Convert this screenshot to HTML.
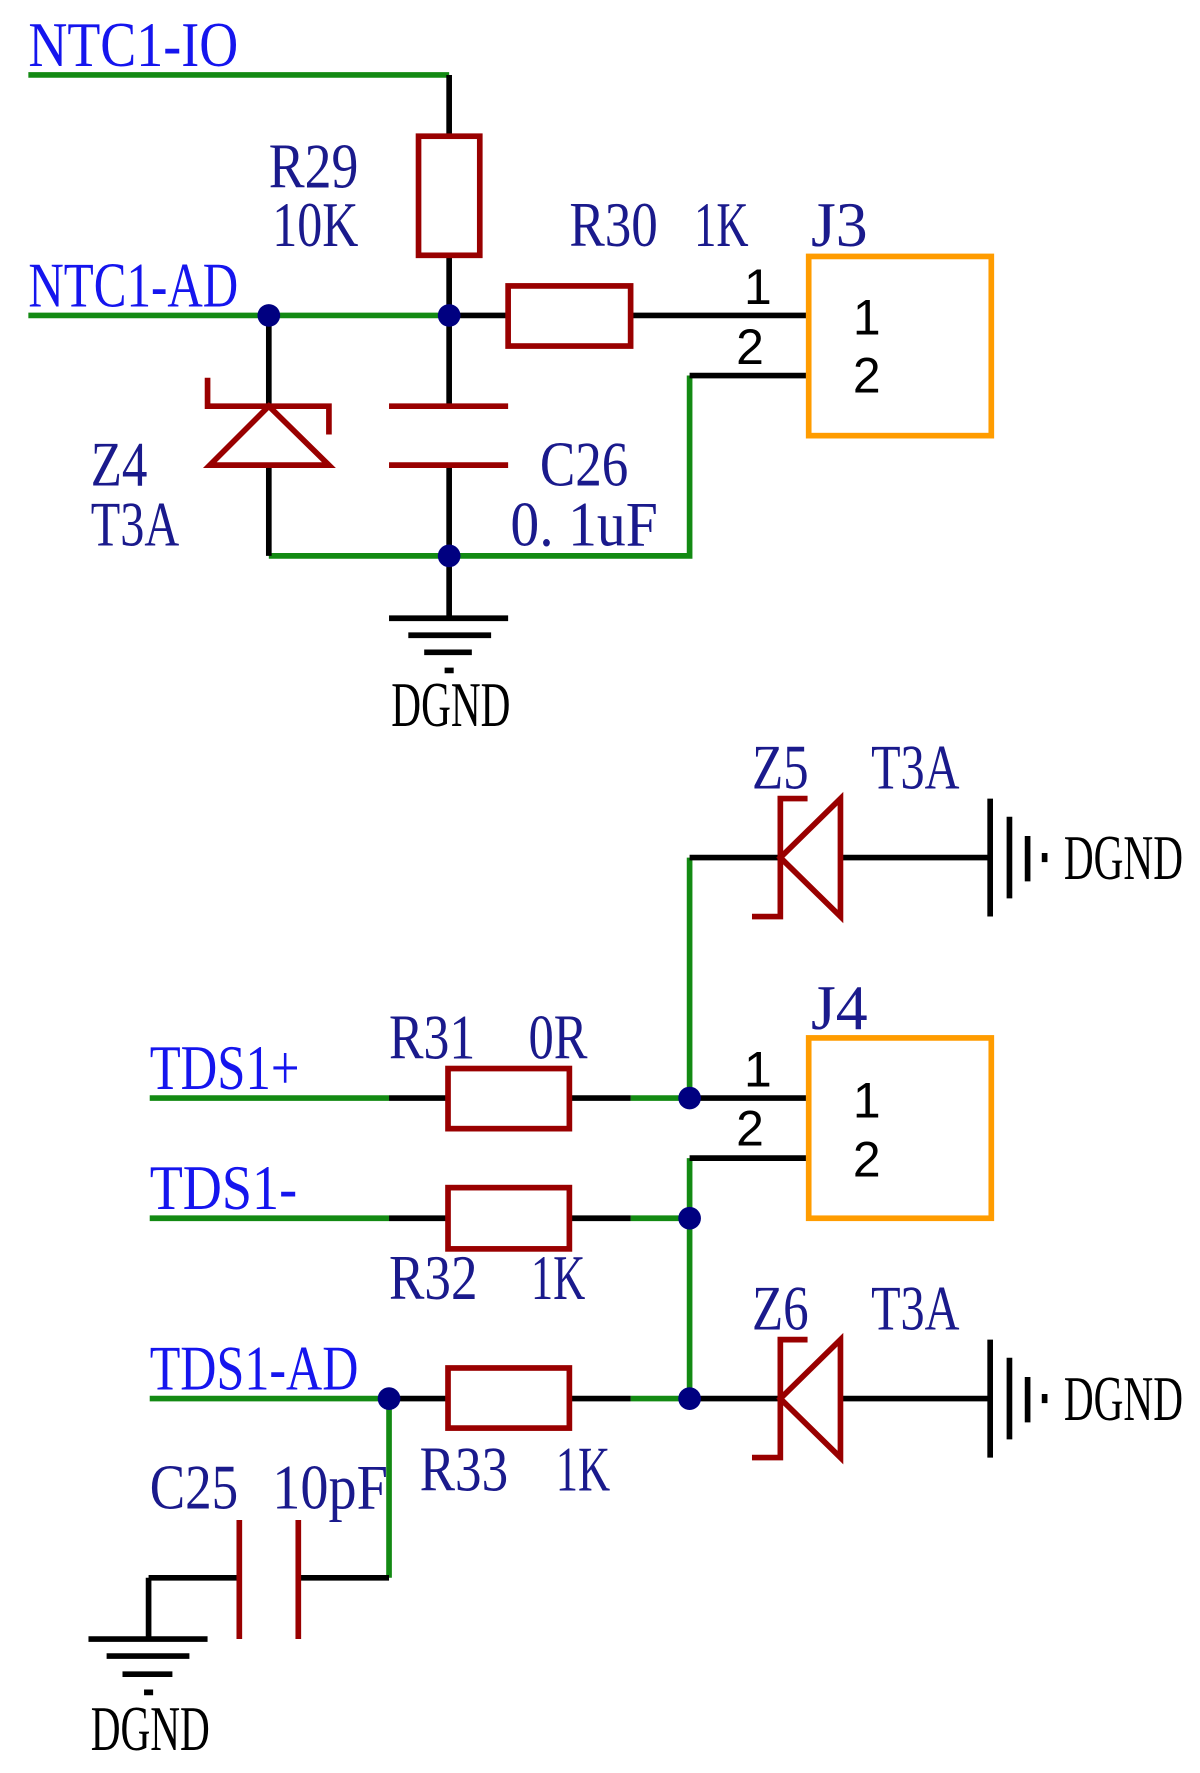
<!DOCTYPE html>
<html><head><style>html,body{margin:0;padding:0;background:#fff}svg{display:block}</style></head><body>
<svg width="1200" height="1773" viewBox="0 0 1058 1563" xmlns="http://www.w3.org/2000/svg">
<g font-family="Liberation Serif, serif" font-size="56" fill="#1a1a8c">
<g fill="#1515ee">
<text x="25" y="58" textLength="185" lengthAdjust="spacingAndGlyphs">NTC1-IO</text>
<text x="25" y="270" textLength="185" lengthAdjust="spacingAndGlyphs">NTC1-AD</text>
<text x="132" y="960" textLength="132" lengthAdjust="spacingAndGlyphs">TDS1+</text>
<text x="132" y="1066" textLength="130" lengthAdjust="spacingAndGlyphs">TDS1-</text>
<text x="132" y="1225" textLength="184" lengthAdjust="spacingAndGlyphs">TDS1-AD</text>
</g>
<text x="237" y="165" textLength="79" lengthAdjust="spacingAndGlyphs">R29</text>
<text x="240" y="217" textLength="76" lengthAdjust="spacingAndGlyphs">10K</text>
<text x="502" y="217" textLength="78" lengthAdjust="spacingAndGlyphs">R30</text>
<text x="612" y="217" textLength="48" lengthAdjust="spacingAndGlyphs">1K</text>
<text x="715" y="217" textLength="50" lengthAdjust="spacingAndGlyphs">J3</text>
<text x="80" y="428" textLength="50" lengthAdjust="spacingAndGlyphs">Z4</text>
<text x="80" y="481" textLength="78" lengthAdjust="spacingAndGlyphs">T3A</text>
<text x="476" y="428" textLength="78" lengthAdjust="spacingAndGlyphs">C26</text>
<text x="450" y="481" textLength="130" lengthAdjust="spacingAndGlyphs">0. 1uF</text>
<text x="345" y="640" textLength="105" lengthAdjust="spacingAndGlyphs" fill="#000">DGND</text>
<text x="663" y="695" textLength="50" lengthAdjust="spacingAndGlyphs">Z5</text>
<text x="768" y="695" textLength="78" lengthAdjust="spacingAndGlyphs">T3A</text>
<text x="938" y="775" textLength="105" lengthAdjust="spacingAndGlyphs" fill="#000">DGND</text>
<text x="715" y="907" textLength="50" lengthAdjust="spacingAndGlyphs">J4</text>
<text x="343" y="933" textLength="76" lengthAdjust="spacingAndGlyphs">R31</text>
<text x="466" y="933" textLength="52" lengthAdjust="spacingAndGlyphs">0R</text>
<text x="343" y="1145" textLength="78" lengthAdjust="spacingAndGlyphs">R32</text>
<text x="468" y="1145" textLength="48" lengthAdjust="spacingAndGlyphs">1K</text>
<text x="663" y="1172" textLength="50" lengthAdjust="spacingAndGlyphs">Z6</text>
<text x="768" y="1172" textLength="78" lengthAdjust="spacingAndGlyphs">T3A</text>
<text x="938" y="1252" textLength="105" lengthAdjust="spacingAndGlyphs" fill="#000">DGND</text>
<text x="370" y="1314" textLength="78" lengthAdjust="spacingAndGlyphs">R33</text>
<text x="490" y="1314" textLength="48" lengthAdjust="spacingAndGlyphs">1K</text>
<text x="132" y="1330" textLength="78" lengthAdjust="spacingAndGlyphs">C25</text>
<text x="240" y="1330" textLength="102" lengthAdjust="spacingAndGlyphs">10pF</text>
<text x="80" y="1543" textLength="105" lengthAdjust="spacingAndGlyphs" fill="#000">DGND</text>
</g>
<g font-family="Liberation Sans, sans-serif" font-size="44" fill="#000">
<text x="656" y="268">1</text><text x="649" y="321">2</text>
<text x="752" y="295">1</text><text x="752" y="346">2</text>
<text x="656" y="958">1</text><text x="649" y="1010">2</text>
<text x="752" y="985">1</text><text x="752" y="1037">2</text>
</g>
<g stroke-width="5" fill="none">
<g stroke="#138a13">
<path d="M25 66H396M25 278H396M608 331V490H237M132 968H343M556 968H608M608 756V968M132 1074H343M556 1074H608M608 1021V1233M132 1233H343M556 1233H608M343 1233V1391"/>
</g>
<g stroke="#000">
<path d="M396 66V120M396 225V358M396 410V545M396 278H448M556 278H713M608 331H713M237 278V358M237 410V490"/>
<path d="M343 545H448M360 560H433M374 575H416M392 591H400"/>
<path d="M608 756H688M741 756H873M608 968H713M608 1021H713M343 968H395M502 968H556M343 1074H395M502 1074H556M343 1233H395M502 1233H556M608 1233H688M741 1233H873"/>
<path d="M263 1391H343M131 1391H211M131 1391V1445M78 1445H183M94 1460H167M108 1476H152M127 1492H135"/>
<path d="M873 704V808M890 720V792M906 737V777M921 752V760M873 1181V1285M890 1197V1269M906 1214V1254M921 1229V1237"/>
</g>
<g stroke="#990000">
<rect x="369" y="120" width="54" height="105"/>
<rect x="448" y="252" width="108" height="53"/>
<path d="M183 333V358H290V383M185 410H290L237 358Z"/>
<path d="M343 358H448M343 410H448"/>
<path d="M712 704H688V808H663M741 704V808L688 756Z"/>
<path d="M712 1181H688V1285H663M741 1181V1285L688 1233Z"/>
<rect x="395" y="942" width="107" height="53"/>
<rect x="395" y="1047" width="107" height="54"/>
<rect x="395" y="1206" width="107" height="53"/>
<path d="M211 1340V1445M263 1340V1445"/>
</g>
<g stroke="#ff9c00">
<rect x="713" y="226" width="161" height="158"/>
<rect x="713" y="915" width="161" height="159"/>
</g>
</g>
<g fill="#000080">
<circle cx="237" cy="278" r="10"/><circle cx="396" cy="278" r="10"/><circle cx="396" cy="490" r="10"/>
<circle cx="608" cy="968" r="10"/><circle cx="608" cy="1074" r="10"/><circle cx="608" cy="1233" r="10"/><circle cx="343" cy="1233" r="10"/>
</g>
</svg>
</body></html>
